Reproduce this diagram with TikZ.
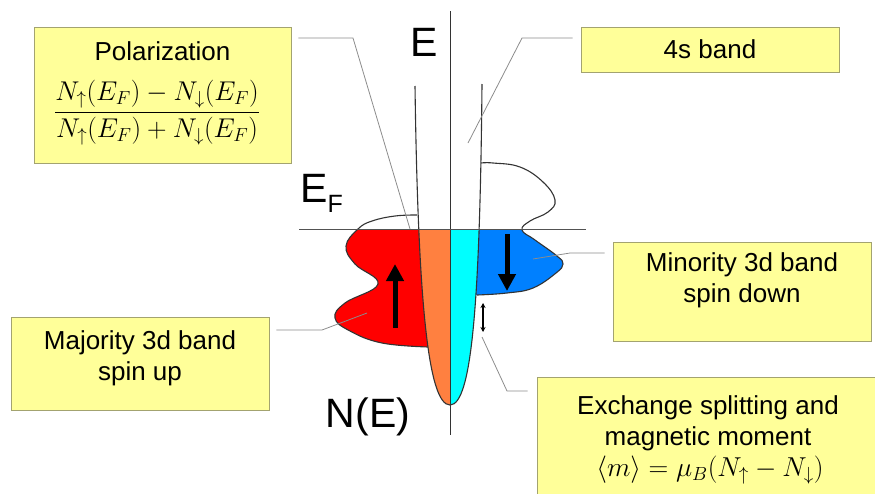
\documentclass[tikz,border=0pt]{standalone}
\usepackage{graphicx}
\usepackage{fontspec}
\setmainfont{Liberation Sans}
\usetikzlibrary{arrows.meta}
\definecolor{ink}{HTML}{333333}
\definecolor{guide}{HTML}{8C8C8C}
\definecolor{note}{HTML}{FFFF99}
\definecolor{noteline}{HTML}{A3A370}
\definecolor{upred}{HTML}{FF0000}
\definecolor{sorange}{HTML}{FF8040}
\definecolor{scyan}{HTML}{00FFFF}
\definecolor{downblue}{HTML}{0080FF}

\begin{document}
\begin{tikzpicture}[
  x=1pt,y=-1pt,
  box/.style={draw=noteline,fill=note,line width=.9pt,inner sep=0pt},
  txt/.style={font=\fontsize{26}{31}\selectfont,align=center,text=black},
  formula/.style={font=\fontsize{26}{31}\selectfont,inner sep=0pt},
  big/.style={font=\fontsize{41}{41}\selectfont,inner sep=0pt},
  leader/.style={draw=guide,line width=.8pt},
  outline/.style={draw=ink,line width=1.1pt},
  spin/.style={-{Triangle[length=17pt,width=17pt]},line width=5pt}
]
\clip (0,0) rectangle (875,493);

% 1. Filled states below E_F, spin up side.
\begin{scope}
  \clip (300,229) rectangle (450,420);
  \fill[upred] plot[smooth,tension=.7] coordinates {(417,215) (395,216) (372,221)
    (358,229) (346,246) (355,264) (378,284) (345,303) (335,318) (350,331) (382,343)
    (428,347)} -- (450,347) -- (450,215) -- cycle;
  \fill[sorange] (415,86) .. controls (418,300) and (428,405) .. (450,405)
    -- (450,86) -- cycle;
\end{scope}

% 2. Filled states below E_F, spin down side.
\begin{scope}
  \clip (450,229) rectangle (600,420);
  \fill[downblue] plot[smooth,tension=.7] coordinates {(481,163) (493,163) (520,167)
    (543,182) (555,200) (548,212) (530,221) (522,230) (535,240) (557,256) (563,264)
    (556,273) (533,288) (507,293) (477,295)} -- (450,295) -- (450,163) -- cycle;
  \fill[scyan] (482,84) .. controls (480,300) and (472,405) .. (450,405)
    -- (450,84) -- cycle;
\end{scope}

% 3. Band outlines, axis and Fermi level.
\draw[outline] plot[smooth,tension=.7] coordinates {(417,215) (395,216) (372,221)
  (358,229) (346,246) (355,264) (378,284) (345,303) (335,318) (350,331) (382,343)
  (428,347)};
\draw[outline] plot[smooth,tension=.7] coordinates {(481,163) (493,163) (520,167)
  (543,182) (555,200) (548,212) (530,221) (522,230) (535,240) (557,256) (563,264)
  (556,273) (533,288) (507,293) (477,295)};
\draw[outline] (415,86) .. controls (418,300) and (428,405) .. (450,405)
  .. controls (472,405) and (480,300) .. (482,84);
\draw[ink,line width=1pt] (450,11) -- (450,435);
\draw[ink!85,line width=1pt] (299,229) -- (586,229);

\node[big] (eAxis) at (424,42) {E};
\node[big] (nAxis) at (368,417) {N(E)};
\node[big,anchor=base west] (eFermi) at (300,202)
  {E\raisebox{-10pt}{\fontsize{25}{25}\selectfont F}};

% 4. Spin arrows and exchange splitting.
\draw[spin] (395,328) -- (395,264);
\draw[spin] (507,234) -- (507,291);
\draw[{Stealth[length=5pt,width=5pt]}-{Stealth[length=5pt,width=5pt]},line width=1.3pt]
  (483,303) -- (483,332);

% 5. Callout boxes.
\node[box,minimum width=257pt,minimum height=136pt] (polBox) at (162.5,95) {};
\node[txt,anchor=base] (polText) at (162.5,60) {Polarization};
\node[formula] (polFrac) at (157,113) {\scalebox{1.09}{%
  $\displaystyle\frac{N_\uparrow(E_F)-N_\downarrow(E_F)}{N_\uparrow(E_F)+N_\downarrow(E_F)}$}};
\node[box,txt,minimum width=258pt,minimum height=45pt] (sBox) at (710,49.5) {4s band};
\node[box,minimum width=258pt,minimum height=99pt] (minBox) at (742,291.5) {};
\node[txt] (minText) at (742,280) {Minority 3d band\\spin down};
\node[box,minimum width=258pt,minimum height=93pt] (majBox) at (140,363.5) {};
\node[txt] (majText) at (140,358) {Majority 3d band\\spin up};
\node[box,minimum width=342pt,minimum height=123pt] (exBox) at (708,438.5) {};
\node[txt] (exText) at (708,423) {Exchange splitting and\\magnetic moment};
\node[formula,anchor=base] (exFormula) at (710,476) {\scalebox{1.1}{%
  $\langle m\rangle=\mu_B\bigl(N_\uparrow-N_\downarrow\bigr)$}};

% 6. Leader lines.
\coordinate (polBend) at (353,38);  \coordinate (polTip) at (410,229);
\coordinate (sBend) at (522,38);    \coordinate (sTip) at (468,143);
\coordinate (minBend) at (570,253); \coordinate (minTip) at (533,259);
\coordinate (majBend) at (322,330); \coordinate (majTip) at (367,313);
\coordinate (exBend) at (507,391);  \coordinate (exTip) at (482,337);
\draw[leader,shorten <=7pt] (polBox.east |- polBend) -- (polBend) -- (polTip);
\draw[leader,shorten <=8pt] (sBox.west |- sBend) -- (sBend) -- (sTip);
\draw[leader,shorten <=8pt] (minBox.west |- minBend) -- (minBend) -- (minTip);
\draw[leader,shorten <=7pt] (majBox.east |- majBend) -- (majBend) -- (majTip);
\draw[leader,shorten <=9pt] (exBox.west |- exBend) -- (exBend) -- (exTip);

\end{tikzpicture}
\end{document}
